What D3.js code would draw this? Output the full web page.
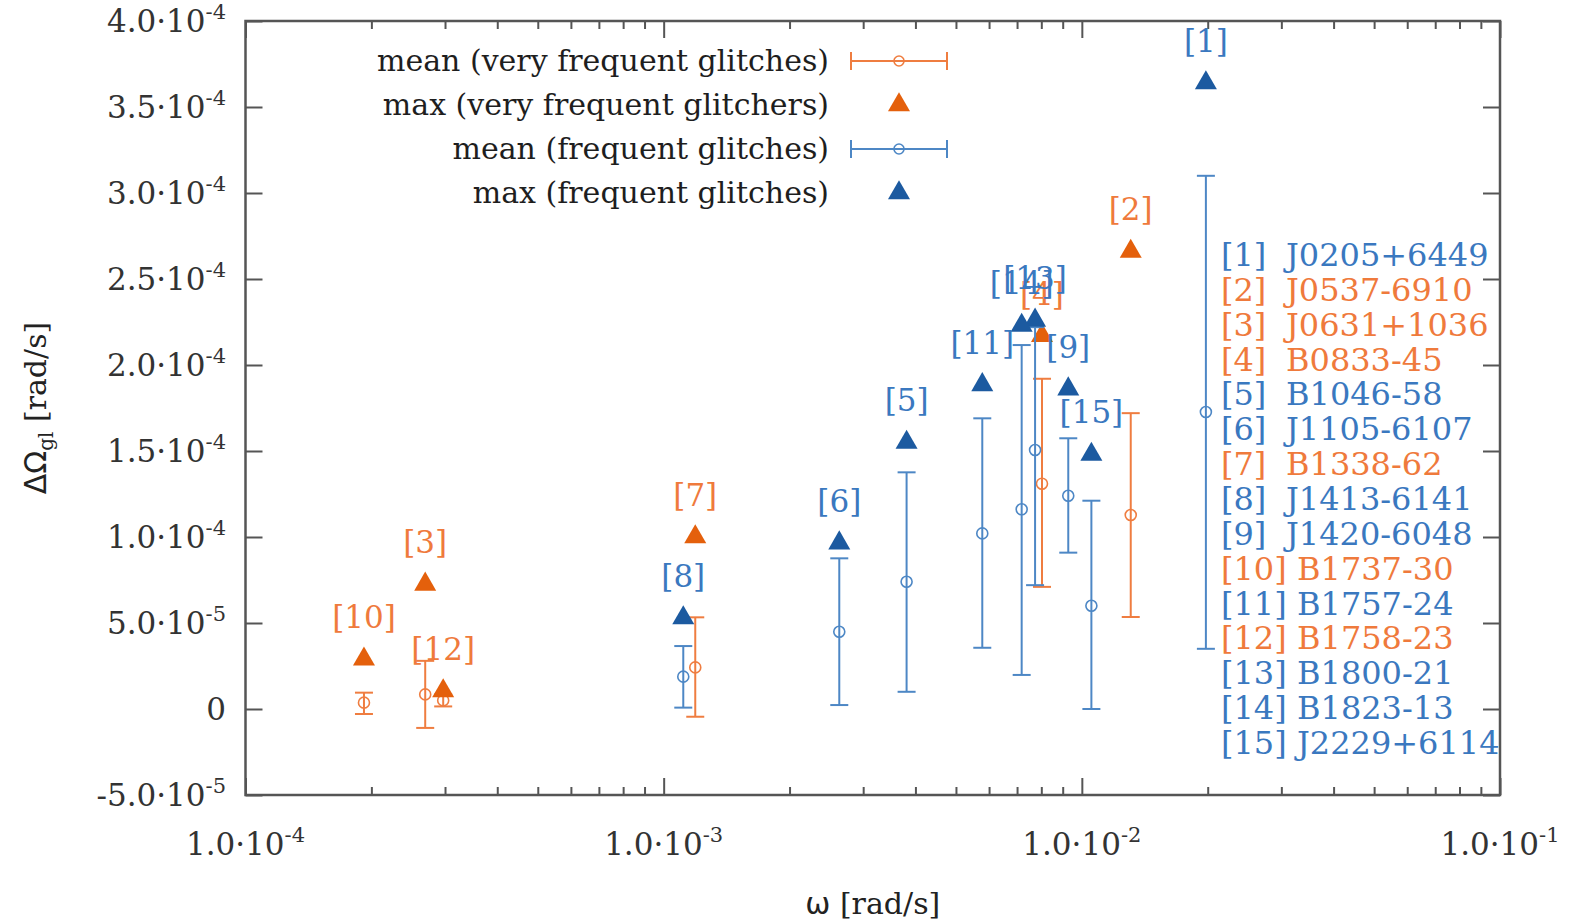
<!DOCTYPE html>
<html>
<head>
<meta charset="utf-8">
<script src="https://cdn.jsdelivr.net/npm/d3@7"></script>
<style>
  html, body { margin: 0; padding: 0; background: #ffffff; }
  svg { display: block; }
  text { font-family: "DejaVu Serif", serif; }
</style>
</head>
<body>
<svg id="chart" width="1569" height="924"></svg>
<script>
// ---- data -------------------------------------------------------------
const pulsarIds   = [1, 2, 3, 4, 5, 6, 7, 8, 9, 10, 11, 12, 13, 14, 15];
const pulsarNames = ["J0205+6449", "J0537-6910", "J0631+1036", "B0833-45", "B1046-58",
                     "J1105-6107", "B1338-62", "J1413-6141", "J1420-6048", "B1737-30",
                     "B1757-24", "B1758-23", "B1800-21", "B1823-13", "J2229+6114"];
// "vf" = very frequent glitchers, "f" = frequent glitchers
const pulsarGroup = ["f", "vf", "vf", "vf", "f", "f", "vf", "f", "f", "vf", "f", "vf", "f", "f", "f"];
// omega [rad/s]
const omegaValues = [0.0198, 0.01309, 2.69e-4, 8.03e-3, 3.81e-3, 2.63e-3, 1.19e-3, 1.114e-3,
                     9.28e-3, 1.92e-4, 5.78e-3, 2.97e-4, 7.73e-3, 7.18e-3, 1.054e-2];
// maximum glitch size [rad/s]
const maxValues   = [3.64e-4, 2.66e-4, 0.725e-4, 2.17e-4, 1.55e-4, 0.965e-4, 1.0e-4, 0.53e-4,
                     1.86e-4, 0.29e-4, 1.885e-4, 0.105e-4, 2.26e-4, 2.23e-4, 1.48e-4];
// mean glitch size and its error bar [rad/s]
const meanValues  = [1.727e-4, 1.128e-4, 0.085e-4, 1.31e-4, 0.74e-4, 0.449e-4, 0.242e-4, 0.188e-4,
                     1.24e-4, 0.037e-4, 1.021e-4, 0.05e-4, 1.506e-4, 1.161e-4, 0.60e-4];
const lowValues   = [0.35e-4, 0.535e-4, -0.11e-4, 0.71e-4, 0.10e-4, 0.023e-4, -0.045e-4, 0.008e-4,
                     0.909e-4, -0.029e-4, 0.356e-4, 0.015e-4, 0.72e-4, 0.198e-4, 0.0];
const highValues  = [3.10e-4, 1.72e-4, 0.28e-4, 1.92e-4, 1.376e-4, 0.876e-4, 0.533e-4, 0.366e-4,
                     1.574e-4, 0.095e-4, 1.69e-4, 0.085e-4, 2.22e-4, 2.116e-4, 1.211e-4];

const yTickValues = [-5e-5, 0, 5e-5, 1e-4, 1.5e-4, 2e-4, 2.5e-4, 3e-4, 3.5e-4, 4e-4];
const xTickValues = [1e-4, 1e-3, 1e-2, 1e-1];
const legendLabels = ["mean (very frequent glitches)", "max (very frequent glitchers)",
                      "mean (frequent glitches)", "max (frequent glitches)"];

// ---- styling ----------------------------------------------------------
const colors = {
  vf: { mark: "#e4600c", bar: "#ef7d40", label: "#ef7a3c" },
  f:  { mark: "#1c5aa0", bar: "#4d87c5", label: "#3a78bf" }
};
const axisColor = "#555555";
const textColor = "#333333";

const svg = d3.select("#chart");
const x = d3.scaleLog().domain([1e-4, 1e-1]).range([245.5, 1500]);
const y = d3.scaleLinear().domain([-5e-5, 4e-4]).range([795, 21]);
const [x0, x1] = x.range();
const [y0, y1] = y.range();

// ---- axes -------------------------------------------------------------
const majorLen = 17, minorLen = 8;
const xMinor = x.ticks().filter(v => !xTickValues.some(t => Math.abs(t - v) / t < 1e-9));

function styleAxis(g) {
  g.select(".domain").remove();
  g.selectAll(".tick line").attr("stroke", axisColor).attr("stroke-width", 2);
}
svg.append("g").attr("transform", `translate(0,${y0})`)
  .call(d3.axisBottom(x).tickValues(xTickValues).tickSize(-majorLen).tickFormat(""))
  .call(styleAxis);
svg.append("g").attr("transform", `translate(0,${y0})`)
  .call(d3.axisBottom(x).tickValues(xMinor).tickSize(-minorLen).tickFormat(""))
  .call(styleAxis);
svg.append("g").attr("transform", `translate(0,${y1})`)
  .call(d3.axisTop(x).tickValues(xTickValues).tickSize(-majorLen).tickFormat(""))
  .call(styleAxis);
svg.append("g").attr("transform", `translate(0,${y1})`)
  .call(d3.axisTop(x).tickValues(xMinor).tickSize(-minorLen).tickFormat(""))
  .call(styleAxis);
svg.append("g").attr("transform", `translate(${x0},0)`)
  .call(d3.axisLeft(y).tickValues(yTickValues).tickSize(-majorLen).tickFormat(""))
  .call(styleAxis);
svg.append("g").attr("transform", `translate(${x1},0)`)
  .call(d3.axisRight(y).tickValues(yTickValues).tickSize(-majorLen).tickFormat(""))
  .call(styleAxis);

svg.append("rect")
  .attr("x", x0).attr("y", y1).attr("width", x1 - x0).attr("height", y0 - y1)
  .attr("fill", "none").attr("stroke", axisColor).attr("stroke-width", 2.5);

// tick label "m·10^e"
function sciParts(v) {
  if (v === 0) return null;
  const e = Math.floor(Math.log10(Math.abs(v)) + 1e-9);
  const m = v / Math.pow(10, e);
  return { mant: m.toFixed(1), exp: String(e) };
}
function writeSci(sel, v, supSize, supRise) {
  const p = sciParts(v);
  if (!p) { sel.text("0"); return; }
  sel.append("tspan").text(p.mant + "\u00b710");
  sel.append("tspan").attr("dy", -supRise).attr("font-size", supSize).text(p.exp);
}

svg.append("g").selectAll("text").data(yTickValues).join("text")
  .attr("x", 226).attr("y", d => y(d) + 10.5)
  .attr("text-anchor", "end").attr("font-size", 31).attr("fill", textColor)
  .each(function (d) { writeSci(d3.select(this), d, 21, 13); });

svg.append("g").selectAll("text").data(xTickValues).join("text")
  .attr("x", d => x(d)).attr("y", 855)
  .attr("text-anchor", "middle").attr("font-size", 31).attr("fill", textColor)
  .each(function (d) { writeSci(d3.select(this), d, 21, 13); });

// axis titles
const xTitle = svg.append("text").attr("x", (x0 + x1) / 2).attr("y", 914)
  .attr("text-anchor", "middle").attr("font-size", 30).attr("fill", "#222");
xTitle.append("tspan").attr("font-family", "DejaVu Sans").text("\u03c9");
xTitle.append("tspan").text(" [rad/s]");

const yTitle = svg.append("text")
  .attr("transform", `translate(46,${(y0 + y1) / 2}) rotate(-90)`)
  .attr("text-anchor", "middle").attr("font-size", 30).attr("fill", "#222");
yTitle.append("tspan").attr("font-family", "DejaVu Sans").text("\u0394\u03a9");
yTitle.append("tspan").attr("font-size", 20).attr("dy", 7).text("gl");
yTitle.append("tspan").attr("dy", -7).text(" [rad/s]");

// ---- data marks -------------------------------------------------------
const pulsars = pulsarIds.map((id, i) => ({
  id, name: pulsarNames[i], group: pulsarGroup[i], omega: omegaValues[i],
  max: maxValues[i], mean: meanValues[i], lo: lowValues[i], hi: highValues[i]
}));
const triangle = d3.symbol().type(d3.symbolTriangle).size(210);
const capHalf = 9;

function drawMean(g, data, c) {
  const eb = g.selectAll("g").data(data).join("g")
    .attr("stroke", c.bar).attr("stroke-width", 2).attr("fill", "none");
  eb.append("line").attr("x1", d => x(d.omega)).attr("x2", d => x(d.omega))
    .attr("y1", d => y(d.lo)).attr("y2", d => y(d.hi));
  eb.append("line").attr("x1", d => x(d.omega) - capHalf).attr("x2", d => x(d.omega) + capHalf)
    .attr("y1", d => y(d.lo)).attr("y2", d => y(d.lo));
  eb.append("line").attr("x1", d => x(d.omega) - capHalf).attr("x2", d => x(d.omega) + capHalf)
    .attr("y1", d => y(d.hi)).attr("y2", d => y(d.hi));
  eb.append("circle").attr("cx", d => x(d.omega)).attr("cy", d => y(d.mean)).attr("r", 5.5)
    .attr("stroke-width", 1.6);
}
function drawMax(g, data, c) {
  g.selectAll("path").data(data).join("path")
    .attr("d", triangle)
    .attr("transform", d => `translate(${x(d.omega)},${y(d.max)})`)
    .attr("fill", c.mark);
}

["vf", "f"].forEach(grp => {
  const data = pulsars.filter(d => d.group === grp);
  drawMean(svg.append("g"), data, colors[grp]);
  drawMax(svg.append("g"), data, colors[grp]);
});

// reference numbers above the max markers
svg.append("g").selectAll("text").data(pulsars).join("text")
  .attr("x", d => x(d.omega)).attr("y", d => y(d.max) - 31)
  .attr("text-anchor", "middle").attr("font-size", 31)
  .attr("fill", d => colors[d.group].label)
  .text(d => `[${d.id}]`);

// ---- pulsar key -------------------------------------------------------
const key = svg.append("g");
key.selectAll("text.num").data(pulsars).join("text").attr("class", "num")
  .attr("x", 1221).attr("y", (d, i) => 266 + i * 34.86)
  .attr("font-size", 32).attr("fill", d => colors[d.group].label)
  .text(d => `[${d.id}]`);
key.selectAll("text.nm").data(pulsars).join("text").attr("class", "nm")
  .attr("x", d => d.id < 10 ? 1286 : 1297).attr("y", (d, i) => 266 + i * 34.86)
  .attr("font-size", 32).attr("fill", d => colors[d.group].label)
  .text(d => d.name);

// ---- legend -----------------------------------------------------------
const legendRows = [
  { label: legendLabels[0], kind: "mean", c: colors.vf },
  { label: legendLabels[1], kind: "max",  c: colors.vf },
  { label: legendLabels[2], kind: "mean", c: colors.f },
  { label: legendLabels[3], kind: "max",  c: colors.f }
];
const legend = svg.append("g");
legendRows.forEach((r, i) => {
  const ry = 61 + i * 44;
  legend.append("text").attr("x", 829).attr("y", ry + 10)
    .attr("text-anchor", "end").attr("font-size", 30).attr("fill", "#1e1e1e")
    .text(r.label);
  if (r.kind === "mean") {
    const g = legend.append("g").attr("stroke", r.c.bar).attr("stroke-width", 2).attr("fill", "none");
    g.append("line").attr("x1", 851).attr("x2", 947).attr("y1", ry).attr("y2", ry);
    g.append("line").attr("x1", 851).attr("x2", 851).attr("y1", ry - capHalf).attr("y2", ry + capHalf);
    g.append("line").attr("x1", 947).attr("x2", 947).attr("y1", ry - capHalf).attr("y2", ry + capHalf);
    g.append("circle").attr("cx", 899).attr("cy", ry).attr("r", 5).attr("stroke-width", 1.6);
  } else {
    legend.append("path").attr("d", triangle)
      .attr("transform", `translate(899,${ry})`).attr("fill", r.c.mark);
  }
});
</script>
</body>
</html>
